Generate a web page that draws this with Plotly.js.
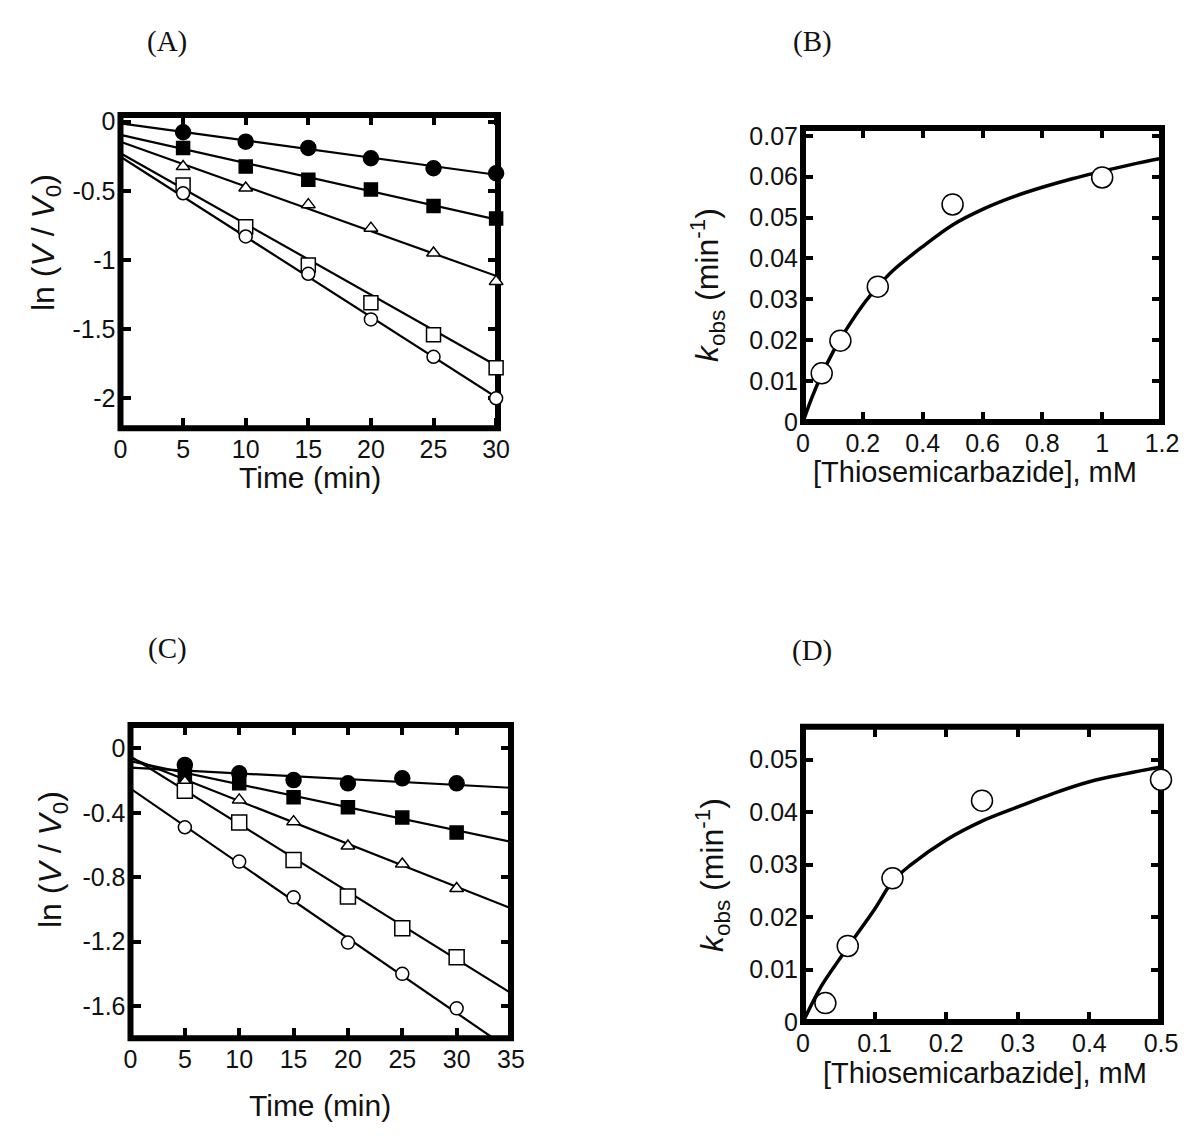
<!DOCTYPE html>
<html>
<head>
<meta charset="utf-8">
<script src="https://cdn.plot.ly/plotly-3.0.1.min.js"></script>
<style>html,body{margin:0;padding:0;background:#fff;}#chart{width:1200px;height:1145px;}</style>
</head>
<body>
<div id="chart"></div>
<script>
// ---------------- DATA ----------------
// Panel A: ln(V/V0) vs time
const timeA = [5, 10, 15, 20, 25, 30];
const A_filledCircle = [-0.077, -0.145, -0.19, -0.265, -0.337, -0.373];
const A_filledSquare = [-0.19, -0.325, -0.42, -0.49, -0.61, -0.70];
const A_openTriangle = [-0.325, -0.48, -0.60, -0.77, -0.95, -1.155];
const A_openSquare = [-0.458, -0.76, -1.036, -1.31, -1.54, -1.78];
const A_openCircle = [-0.518, -0.83, -1.10, -1.43, -1.70, -2.0];
const fitTimeA = [0, 30.15];
const A_fitFilledCircle = [-0.012, -0.386];
const A_fitFilledSquare = [-0.096, -0.71];
const A_fitOpenTriangle = [-0.145, -1.12];
const A_fitOpenSquare = [-0.229, -1.77];
const A_fitOpenCircle = [-0.253, -2.0];

// Panel B: kobs vs [Thiosemicarbazide]
const concB = [0.0625, 0.125, 0.25, 0.5, 1.0];
const kobsB = [0.0119, 0.0199, 0.0331, 0.0532, 0.0598];
const curveConcB = [0, 0.03, 0.0625, 0.1, 0.125, 0.2, 0.25, 0.3, 0.4, 0.5, 0.6, 0.7, 0.8, 0.9, 1.0, 1.1, 1.2];
const curveKobsB = [0, 0.0060, 0.0116, 0.0171, 0.0203, 0.0286, 0.0331, 0.0370, 0.0429, 0.0482, 0.0520, 0.0550, 0.0574, 0.0595, 0.0613, 0.0630, 0.0645];

// Panel C: ln(V/V0) vs time
const timeC = [5, 10, 15, 20, 25, 30];
const C_filledCircle = [-0.103, -0.155, -0.197, -0.217, -0.186, -0.217];
const C_filledSquare = [-0.166, -0.217, -0.304, -0.366, -0.43, -0.523];
const C_openTriangle = [-0.207, -0.32, -0.455, -0.606, -0.718, -0.87];
const C_openSquare = [-0.263, -0.46, -0.693, -0.92, -1.117, -1.297];
const C_openCircle = [-0.49, -0.703, -0.925, -1.206, -1.40, -1.614];
const fitTimeC = [0, 35];
const C_fitFilledCircle = [-0.12, -0.245];
const C_fitFilledSquare = [-0.08, -0.58];
const C_fitOpenTriangle = [-0.06, -0.993];
const C_fitOpenSquare = [-0.05, -1.52];
const C_fitOpenCircle = [-0.25, -1.875];

// Panel D: kobs vs [Thiosemicarbazide]
const concD = [0.03125, 0.0625, 0.125, 0.25, 0.5];
const kobsD = [0.0036, 0.0145, 0.0274, 0.0422, 0.0462];
const curveConcD = [0, 0.025, 0.05, 0.0625, 0.1, 0.125, 0.15, 0.2, 0.25, 0.3, 0.35, 0.4, 0.45, 0.5];
const curveKobsD = [0, 0.0067, 0.0118, 0.0143, 0.0215, 0.0268, 0.0299, 0.0347, 0.0383, 0.0410, 0.0436, 0.0458, 0.0473, 0.0486];

// Tick labels
const tickTimeA = [0, 5, 10, 15, 20, 25, 30];
const tickLnA = [0, -0.5, -1, -1.5, -2];
const tickLnAText = ['0', '-0.5', '-1', '-1.5', '-2'];
const tickConcB = [0, 0.2, 0.4, 0.6, 0.8, 1, 1.2];
const tickConcBText = ['0', '0.2', '0.4', '0.6', '0.8', '1', '1.2'];
const tickKobsB = [0, 0.01, 0.02, 0.03, 0.04, 0.05, 0.06, 0.07];
const tickKobsBText = ['0', '0.01', '0.02', '0.03', '0.04', '0.05', '0.06', '0.07'];
const tickTimeC = [0, 5, 10, 15, 20, 25, 30, 35];
const tickLnC = [0, -0.4, -0.8, -1.2, -1.6];
const tickLnCText = ['0', '-0.4', '-0.8', '-1.2', '-1.6'];
const tickConcD = [0, 0.1, 0.2, 0.3, 0.4, 0.5];
const tickConcDText = ['0', '0.1', '0.2', '0.3', '0.4', '0.5'];
const tickKobsD = [0, 0.01, 0.02, 0.03, 0.04, 0.05];
const tickKobsDText = ['0', '0.01', '0.02', '0.03', '0.04', '0.05'];

// Axis titles and panel labels
const lnTitle = 'ln (<i>V</i> / <i>V</i><sub>0</sub>)';
const kTitle = '<i>k</i><sub>obs</sub> (min<sup>-1</sup>)';
const concTitle = '[Thiosemicarbazide], mM';
const timeTitle = 'Time (min)';
const panelLabels = ['(A)', '(B)', '(C)', '(D)'];

// ---------------- LAYOUT HELPERS ----------------
const W = 1200, H = 1145;
const FONT = 'Liberation Sans, Arial, sans-serif';
const SERIF = 'Liberation Serif, Times New Roman, serif';
function xd(l, r) { return [l / W, r / W]; }
function yd(t, b) { return [1 - b / H, 1 - t / H]; }
function px(x) { return x / W; }
function py(y) { return 1 - y / H; }

function axis(domain, range, vals, text, anchor) {
  return {
    domain: domain, range: range, anchor: anchor,
    tickmode: 'array', tickvals: vals, ticktext: text,
    ticks: 'inside', ticklen: 10, tickwidth: 4, tickcolor: '#000',
    mirror: 'ticks', showline: false, showgrid: false, zeroline: false,
    tickfont: {family: FONT, size: 25, color: '#111'},
    ticklabelstandoff: 4,
    layer: 'below traces',
    fixedrange: true
  };
}

const traces = [];
function fitLine(x, y, xa, ya, w, shape) {
  traces.push({x: x, y: y, xaxis: xa, yaxis: ya, mode: 'lines', type: 'scatter',
    line: {color: '#000', width: w, shape: shape || 'linear', smoothing: 1}, hoverinfo: 'skip', showlegend: false});
}
function pts(x, y, xa, ya, symbol, size, filled) {
  traces.push({x: x, y: y, xaxis: xa, yaxis: ya, mode: 'markers', type: 'scatter', cliponaxis: false,
    marker: {symbol: symbol, size: size, color: filled ? '#000' : '#fff', line: {color: '#000', width: 1.5}},
    showlegend: false});
}

// Panel A
fitLine(fitTimeA, A_fitFilledCircle, 'x', 'y', 2.2);
fitLine(fitTimeA, A_fitFilledSquare, 'x', 'y', 2.2);
fitLine(fitTimeA, A_fitOpenTriangle, 'x', 'y', 2.2);
fitLine(fitTimeA, A_fitOpenSquare, 'x', 'y', 2.2);
fitLine(fitTimeA, A_fitOpenCircle, 'x', 'y', 2.2);
pts(timeA, A_filledCircle, 'x', 'y', 'circle', 15, true);
pts(timeA, A_filledSquare, 'x', 'y', 'square', 13, true);
pts(timeA, A_openTriangle, 'x', 'y', 'triangle-up', 12, false);
pts(timeA, A_openSquare, 'x', 'y', 'square', 14, false);
pts(timeA, A_openCircle, 'x', 'y', 'circle', 13, false);

// Panel B
fitLine(curveConcB, curveKobsB, 'x2', 'y2', 3.5, 'spline');
pts(concB, kobsB, 'x2', 'y2', 'circle', 21, false);

// Panel C
fitLine(fitTimeC, C_fitFilledCircle, 'x3', 'y3', 2.2);
fitLine(fitTimeC, C_fitFilledSquare, 'x3', 'y3', 2.2);
fitLine(fitTimeC, C_fitOpenTriangle, 'x3', 'y3', 2.2);
fitLine(fitTimeC, C_fitOpenSquare, 'x3', 'y3', 2.2);
fitLine(fitTimeC, C_fitOpenCircle, 'x3', 'y3', 2.2);
pts(timeC, C_filledCircle, 'x3', 'y3', 'circle', 15, true);
pts(timeC, C_filledSquare, 'x3', 'y3', 'square', 13, true);
pts(timeC, C_openTriangle, 'x3', 'y3', 'triangle-up', 12, false);
pts(timeC, C_openSquare, 'x3', 'y3', 'square', 15, false);
pts(timeC, C_openCircle, 'x3', 'y3', 'circle', 13, false);

// Panel D
fitLine(curveConcD, curveKobsD, 'x4', 'y4', 3.5, 'spline');
pts(concD, kobsD, 'x4', 'y4', 'circle', 21, false);

function frame(xr, yr) {
  return {type: 'rect', xref: xr + ' domain', yref: yr + ' domain', x0: 0, x1: 1, y0: 0, y1: 1,
    line: {color: '#000', width: 6}, fillcolor: 'rgba(0,0,0,0)', layer: 'below'};
}
function label(text, x, y, size, family, angle) {
  return {text: text, x: px(x), y: py(y), xref: 'paper', yref: 'paper', showarrow: false,
    xanchor: 'center', yanchor: 'middle', textangle: angle || 0,
    font: {family: family, size: size, color: '#111'}};
}

const layout = {
  width: W, height: H,
  margin: {l: 0, r: 0, t: 0, b: 0},
  paper_bgcolor: '#fff', plot_bgcolor: 'rgba(0,0,0,0)',
  showlegend: false,
  xaxis: axis(xd(120.5, 498), [0, 30.15], tickTimeA, tickTimeA.map(String), 'y'),
  yaxis: axis(yd(115, 428.3), [-2.217, 0.048], tickLnA, tickLnAText, 'x'),
  xaxis2: axis(xd(803, 1162), [0, 1.2], tickConcB, tickConcBText, 'y2'),
  yaxis2: axis(yd(128, 422), [0, 0.0719], tickKobsB, tickKobsBText, 'x2'),
  xaxis3: axis(xd(130.5, 511), [0, 35], tickTimeC, tickTimeC.map(String), 'y3'),
  yaxis3: axis(yd(725, 1038.3), [-1.8, 0.145], tickLnC, tickLnCText, 'x3'),
  xaxis4: axis(xd(803, 1161), [0, 0.5], tickConcD, tickConcDText, 'y4'),
  yaxis4: axis(yd(726.7, 1022), [0, 0.0563], tickKobsD, tickKobsDText, 'x4'),
  shapes: [frame('x', 'y'), frame('x2', 'y2'), frame('x3', 'y3'), frame('x4', 'y4')],
  annotations: [
    label(panelLabels[0], 167, 42, 29, SERIF),
    label(panelLabels[1], 812, 42, 29, SERIF),
    label(panelLabels[2], 167, 648, 29, SERIF),
    label(panelLabels[3], 812, 650, 29, SERIF),
    label(timeTitle, 310, 477, 30, FONT),
    label(lnTitle, 45, 243, 32, FONT, -90),
    label(concTitle, 975, 472, 29, FONT),
    label(kTitle, 707, 285, 32, FONT, -90),
    label(timeTitle, 320, 1105, 30, FONT),
    label(lnTitle, 52, 860, 32, FONT, -90),
    label(concTitle, 985, 1073, 29, FONT),
    label(kTitle, 712, 875, 32, FONT, -90)
  ]
};

Plotly.newPlot('chart', traces, layout, {displayModeBar: false, staticPlot: true});
</script>
</body>
</html>
